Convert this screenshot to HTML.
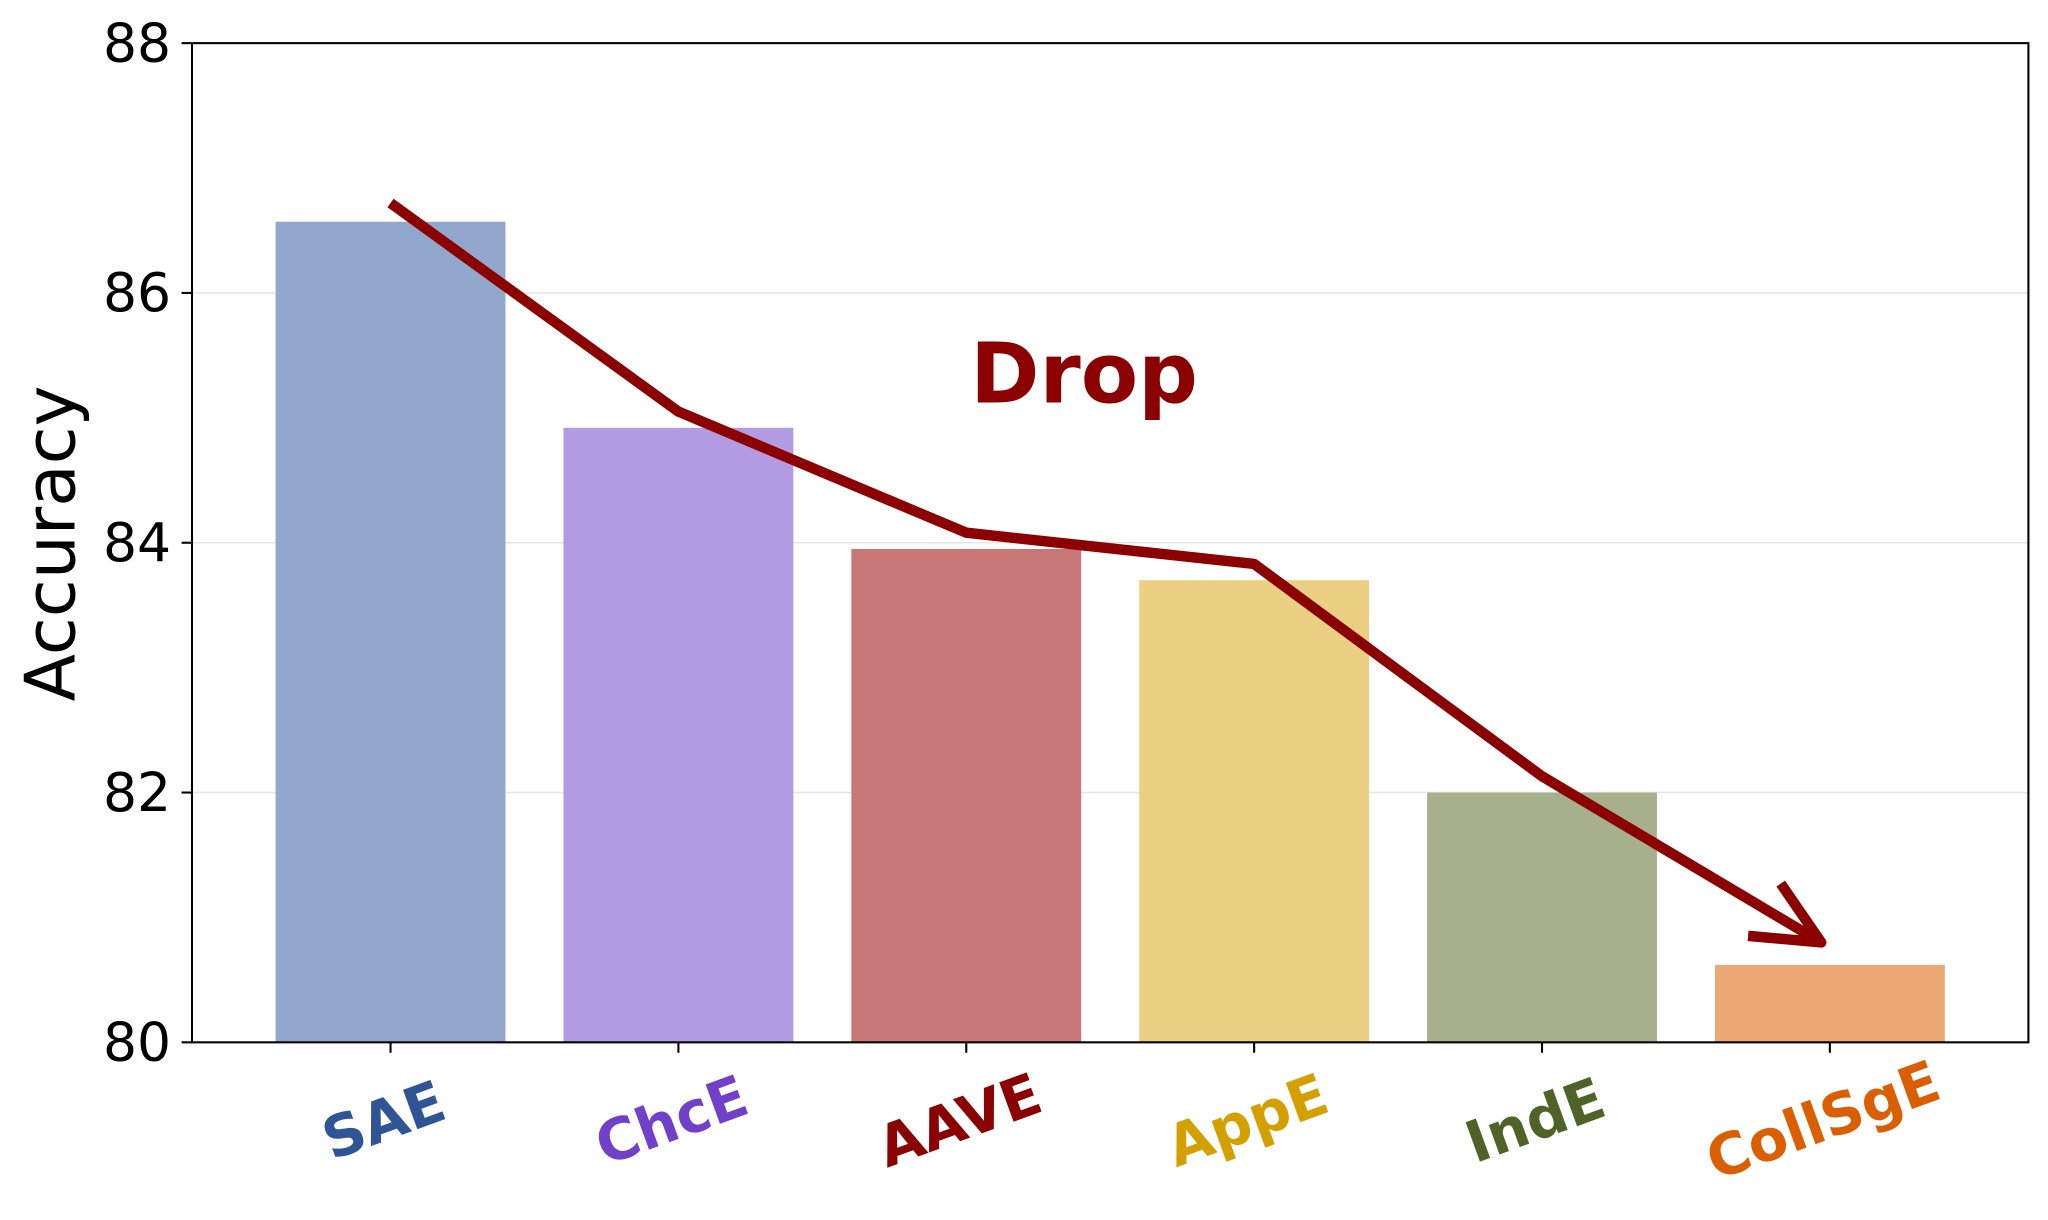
<!DOCTYPE html>
<html><head><meta charset="utf-8"><style>
html,body{margin:0;padding:0;background:#fff;}
svg{display:block;font-family:"DejaVu Sans","Liberation Sans",sans-serif;}
</style></head><body>
<svg id="chart" width="2048" height="1220" viewBox="0 0 1568 934" xmlns="http://www.w3.org/2000/svg">
<g id="grid"></g>
<g id="bars"></g>
<g id="trend"></g>
<rect x="147" y="33" width="1406" height="765" fill="none" stroke="#000" stroke-width="1.6"/>
<g id="yaxis"></g>
<g id="xaxis"></g>
<text x="57" y="416" font-size="53" text-anchor="middle" transform="rotate(-90 57 416)">Accuracy</text>
<text x="830" y="308" font-size="64" font-weight="bold" fill="#8b0000" text-anchor="middle">Drop</text>
</svg>
<script>
const categories = ["SAE","ChcE","AAVE","AppE","IndE","CollSgE"];
const accuracy = [86.57, 84.92, 83.95, 83.70, 82.0, 80.62];
const trendIndex = [0, 1, 2, 3, 4, 4.97];
const trendValues = [86.72, 85.05, 84.08, 83.83, 82.13, 80.80];
const yTicks = [80, 82, 84, 86, 88];
const barColors = ["#91a7cb","#b39be2","#c97878","#ebd083","#a6b08d","#eba874"];
const labelColors = ["#2f5597","#7040c8","#8b0000","#d4a000","#4f6228","#d95f02"];

const NS = "http://www.w3.org/2000/svg";
const y = v => 798 - (v - 80) * (765 / 8);
const x = i => 299 + i * 220.4;
const bw = 176;
function mk(tag, attrs, parent){const e=document.createElementNS(NS,tag);for(const k in attrs)e.setAttribute(k,attrs[k]);parent.appendChild(e);return e;}
const grid=document.getElementById('grid'),bars=document.getElementById('bars'),trend=document.getElementById('trend'),ya=document.getElementById('yaxis'),xa=document.getElementById('xaxis');

yTicks.forEach(t=>{
  if(t>80&&t<88){const g=mk('line',{x1:147,x2:1553,y1:y(t),y2:y(t),stroke:'#e6e6e6','stroke-width':1.2},grid);
  
  }
  const tk=mk('line',{x1:139,x2:147,y1:y(t),y2:y(t),stroke:'#000','stroke-width':1.6},ya);
  
  
  const lb=mk('text',{x:131,y:y(t)+14,'font-size':41,'text-anchor':'end'},ya);
  lb.textContent=t;
  
  
});

categories.forEach((c,i)=>{
  const r=mk('rect',{x:x(i)-bw/2,y:y(accuracy[i]),width:bw,height:y(80)-y(accuracy[i]),fill:barColors[i]},bars);
  
  
  const tk=mk('line',{x1:x(i),x2:x(i),y1:798,y2:806,stroke:'#000','stroke-width':1.6},xa);
  
  
  const lx=x(i), ly=872;
  const lb=mk('text',{x:lx,y:ly,'font-size':44,'font-weight':'bold','text-anchor':'middle',fill:labelColors[i],transform:`rotate(-20 ${lx} ${ly})`},xa);
  lb.textContent=c;
  
  
});

const pts=trendIndex.map((ix,k)=>[x(ix),y(trendValues[k])]);
const pl=mk('polyline',{points:pts.map(p=>p.join(',')).join(' '),fill:'none',stroke:'#8b0000','stroke-width':8,'stroke-linejoin':'round'},trend);


const end=pts[pts.length-1];
const ah=mk('polyline',{points:`${end[0]-31},${end[1]-45} ${end[0]},${end[1]} ${end[0]-56},${end[1]-5}`,fill:'none',stroke:'#8b0000','stroke-width':8,'stroke-linejoin':'round'},trend);


</script>
</body></html>
